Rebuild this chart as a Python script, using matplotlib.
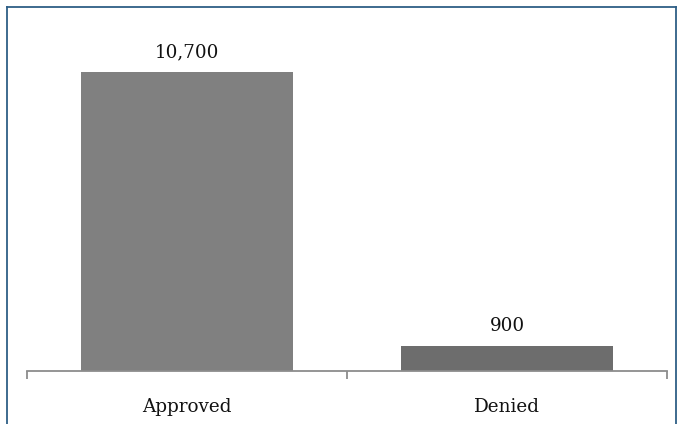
import matplotlib
matplotlib.use("Agg")
import matplotlib.pyplot as plt

categories = ["Approved", "Denied"]
counts = [10700, 900]
value_labels = ["10,700", "900"]
bar_colors = ["#808080", "#6d6d6d"]

W, H = 684, 424
fig = plt.figure(figsize=(W / 100, H / 100), dpi=100)
fig.patch.set_facecolor("white")

# plot area: baseline at y=371 px, top at y=20 px
x0, x1 = 27, 667
ytop, ybot = 20, 371
ax = fig.add_axes([x0 / W, 1 - ybot / H, (x1 - x0) / W, (ybot - ytop) / H])
ax.set_facecolor("none")

ymax = counts[0] * (ybot - ytop) / (ybot - 72)
ax.set_ylim(0, ymax)
ax.set_xlim(-0.5, 1.5)

xs = list(range(len(categories)))
bars = ax.bar(xs, counts, width=0.665, color=bar_colors, edgecolor="none", zorder=2)

for b, lab in zip(bars, value_labels):
    ax.annotate(lab, (b.get_x() + b.get_width() / 2, b.get_height()),
                xytext=(0, 8), textcoords="offset points", ha="center", va="bottom",
                fontsize=13.2, family="DejaVu Serif", color="#111111")

for s in ["top", "right", "left"]:
    ax.spines[s].set_visible(False)
ax.spines["bottom"].set_color("#8c8c8c")
ax.spines["bottom"].set_linewidth(1.3)
ax.set_yticks([])

# category separators on the axis
ax.set_xticks([-0.5, 0.5, 1.5])
ax.set_xticklabels([])
ax.tick_params(axis="x", length=6, width=1.3, color="#8c8c8c", direction="out")
for x, c in zip(xs, categories):
    ax.text(x, -0.078, c, transform=ax.get_xaxis_transform(), ha="center", va="top",
            fontsize=13.2, family="DejaVu Serif", color="#111111")

# outer frame on left, top and right
frame_color = "#2e5f86"
fig.add_artist(plt.Line2D([7 / W, 7 / W], [0, 1 - 7 / H], color=frame_color, lw=1.3))
fig.add_artist(plt.Line2D([7 / W, 676 / W], [1 - 7 / H, 1 - 7 / H], color=frame_color, lw=1.3))
fig.add_artist(plt.Line2D([676 / W, 676 / W], [0, 1 - 7 / H], color=frame_color, lw=1.3))

fig.savefig("out.png", dpi=100, facecolor="white")
